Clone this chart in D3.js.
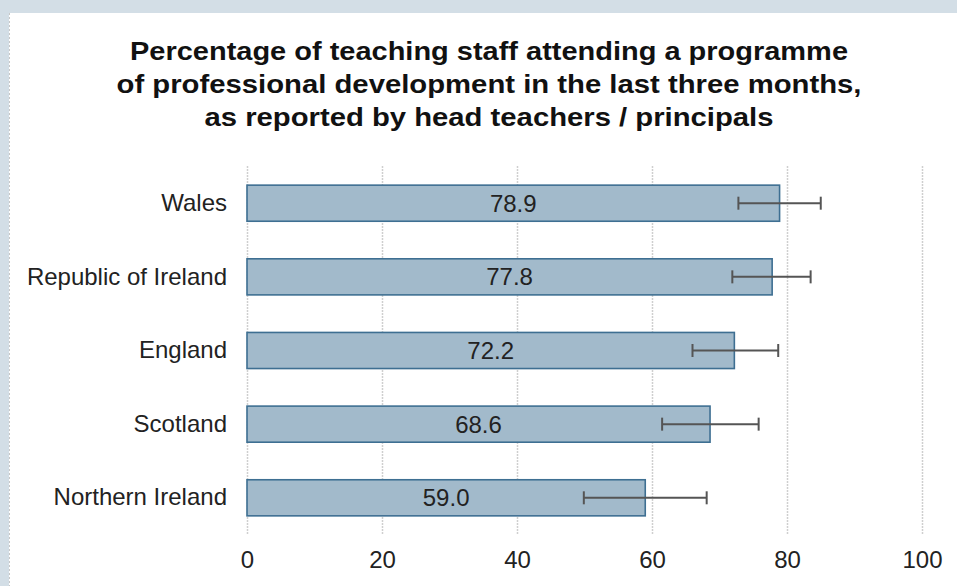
<!DOCTYPE html>
<html lang="en">
<head>
<meta charset="UTF-8">
<title>Percentage of teaching staff attending professional development</title>
<style>
  html, body { margin: 0; padding: 0; background: #D3DEE6; }
  body, text { font-family: 'Liberation Sans', Arial, sans-serif; }
  .grid line { stroke: #cfcfcf; stroke-width: 1.5px; stroke-dasharray: 2,1; }
  .bar { fill: #A2BACB; stroke: #3E6F92; stroke-width: 1.6px; }
  .err { stroke: #555; stroke-width: 2px; fill: none; }
</style>
</head>
<body>
<svg id="chart" width="957" height="586" viewBox="0 0 957 586"></svg>
<script src="https://d3js.org/d3.v7.min.js"></script>
<script>
// data
const countries = ["Wales", "Republic of Ireland", "England", "Scotland", "Northern Ireland"];
const values = [78.9, 77.8, 72.2, 68.6, 59.0];
const lower = [72.8, 71.9, 66.0, 61.5, 49.9];
const upper = [85.0, 83.5, 78.7, 75.8, 68.1];
const xTicks = [0, 20, 40, 60, 80, 100];
const titleLines = [
  "Percentage of teaching staff attending a programme",
  "of professional development in the last three months,",
  "as reported by head teachers / principals"
];

const data = countries.map((c, i) => ({ name: c, value: values[i], lo: lower[i], hi: upper[i] }));

const svg = d3.select("#chart");
const labelSize = 24;

// white panel
svg.append("rect")
    .attr("x", 9).attr("y", 13)
    .attr("width", 960).attr("height", 600)
    .attr("fill", "#fff");
svg.append("line")
    .attr("x1", 9.5).attr("x2", 9.5).attr("y1", 13).attr("y2", 586)
    .attr("stroke", "#c8c8c8").attr("stroke-dasharray", "2,2");

const margin = { top: 166, left: 247, right: 35, bottom: 51 };
const width = 957 - margin.left - margin.right,
    height = 586 - margin.top - margin.bottom;

const x = d3.scaleLinear().domain([0, 100]).range([0, width]);
const y = d3.scaleBand().domain(countries).range([0, height])
    .paddingInner(0.51).paddingOuter(0.26);

const g = svg.append("g")
    .attr("transform", "translate(" + margin.left + "," + margin.top + ")");

// title
const title = svg.append("text")
    .attr("text-anchor", "middle")
    .attr("font-weight", "bold")
    .attr("font-size", 26)
    .attr("fill", "#111");
const titleWidths = [718, 745, 569];
titleLines.forEach((t, i) => {
  title.append("tspan")
      .attr("x", 489)
      .attr("y", 60 + i * 33)
      .attr("textLength", titleWidths[i])
      .attr("lengthAdjust", "spacingAndGlyphs")
      .text(t);
});

// gridlines
g.append("g")
    .attr("class", "grid")
    .selectAll("line")
    .data(xTicks)
    .join("line")
    .attr("x1", d => x(d) + 0.5).attr("x2", d => x(d) + 0.5)
    .attr("y1", 0).attr("y2", height);

// bars
g.selectAll(".bar")
    .data(data)
    .join("rect")
    .attr("class", "bar")
    .attr("x", x(0))
    .attr("y", d => y(d.name))
    .attr("width", d => x(d.value))
    .attr("height", y.bandwidth());

// value labels
g.selectAll(".val")
    .data(data)
    .join("text")
    .attr("class", "val")
    .attr("x", d => x(d.value) / 2)
    .attr("y", d => y(d.name) + y.bandwidth() / 2)
    .attr("dy", "0.36em")
    .attr("text-anchor", "middle")
    .attr("font-size", labelSize)
    .attr("fill", "#222")
    .text(d => d.value.toFixed(1));

// error bars
const err = g.selectAll(".errg")
    .data(data)
    .join("g")
    .attr("class", "err")
    .attr("transform", d => "translate(0," + (y(d.name) + y.bandwidth() / 2) + ")");
err.append("line").attr("x1", d => x(d.lo)).attr("x2", d => x(d.hi)).attr("y1", 0).attr("y2", 0);
err.append("line").attr("x1", d => x(d.lo)).attr("x2", d => x(d.lo)).attr("y1", -6.5).attr("y2", 6.5);
err.append("line").attr("x1", d => x(d.hi)).attr("x2", d => x(d.hi)).attr("y1", -6.5).attr("y2", 6.5);

// category axis
const yAxis = g.append("g").call(d3.axisLeft(y).tickSize(0).tickPadding(20));
yAxis.select(".domain").remove();
yAxis.selectAll("text")
    .attr("font-size", labelSize)
    .attr("font-family", "'Liberation Sans', Arial, sans-serif")
    .attr("fill", "#222");

// value axis
const xAxis = g.append("g")
    .attr("transform", "translate(0," + height + ")")
    .call(d3.axisBottom(x).tickValues(xTicks).tickSize(0).tickPadding(16));
xAxis.select(".domain").remove();
xAxis.selectAll("text")
    .attr("font-size", labelSize)
    .attr("font-family", "'Liberation Sans', Arial, sans-serif")
    .attr("fill", "#222");
</script>
</body>
</html>
